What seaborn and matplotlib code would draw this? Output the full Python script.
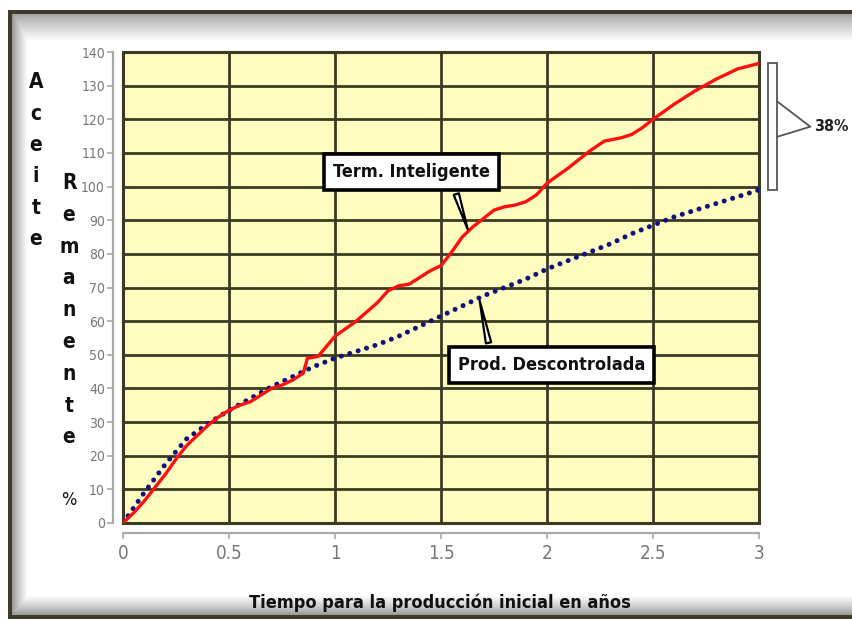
import numpy as np
import pandas as pd
import matplotlib
matplotlib.use("Agg")
import matplotlib.pyplot as plt
from matplotlib.patches import Rectangle
import seaborn as sns

# ---- data -------------------------------------------------------------
t_intel = [0, 0.05, 0.1, 0.15, 0.2, 0.25, 0.3, 0.35, 0.4, 0.45, 0.5, 0.55,
           0.6, 0.65, 0.7, 0.75, 0.8, 0.85, 0.87, 0.92, 1.0, 1.1, 1.2, 1.25,
           1.3, 1.35, 1.4, 1.45, 1.5, 1.55, 1.6, 1.65, 1.7, 1.75, 1.8, 1.85,
           1.9, 1.95, 2.0, 2.1, 2.2, 2.27, 2.35, 2.4, 2.45, 2.5, 2.6, 2.7,
           2.8, 2.9, 3.0]
v_intel = [0, 3, 6.5, 10.5, 14.5, 19, 23, 26, 29, 31.5, 33.5, 35,
           36, 38, 40, 41, 42.5, 44.5, 49, 49.5, 55.5, 60, 65.5, 69,
           70.5, 71, 73, 75, 76.5, 80.5, 85, 88, 90.5, 93, 94, 94.5,
           95.5, 97.5, 101, 105.5, 110.5, 113.5, 114.5, 115.5, 117.5, 120,
           124.5, 128.5, 132, 135, 136.6]

t_desc = [0, 0.1, 0.2, 0.3, 0.4, 0.5, 0.6, 0.7, 0.8, 0.9, 1.0, 1.1, 1.2,
          1.3, 1.4, 1.5, 1.6, 1.7, 1.8, 1.9, 2.0, 2.1, 2.2, 2.3, 2.4, 2.5,
          2.6, 2.7, 2.8, 2.9, 3.0]
v_desc = [0, 9, 17.5, 25, 29.5, 33.5, 37, 40.5, 43.5, 46.5, 49, 51, 53,
          55.5, 58.5, 61.5, 64.5, 67.5, 70, 72.5, 75.5, 78, 80.5, 83, 86,
          88.5, 91, 93, 95, 97, 99]

x_ticks = [0, 0.5, 1, 1.5, 2, 2.5, 3]
x_tick_labels = ["0", "0.5", "1", "1.5", "2", "2.5", "3"]
y_ticks = list(range(0, 141, 10))

label_intel = "Term. Inteligente"
label_desc = "Prod. Descontrolada"
gain_label = "38%"
x_title = "Tiempo para la producción inicial en años"
y_word1 = "Aceite"
y_word2 = "Remanente"

# ---- style ------------------------------------------------------------
sns.set_theme(style="ticks")
plt.rcParams["font.family"] = ["DejaVu Sans"]
plt.rcParams["font.stretch"] = "condensed"

W, H = 852, 621
fig = plt.figure(figsize=(W / 100, H / 100), dpi=100)

# framed panel with soft inner shadow
bg = np.ones((H, W, 3))
rows = np.arange(H)[:, None]
cols = np.arange(W)[None, :]
shade = np.ones((H, W))
top = np.clip((rows - 13) / 28.0, 0, 1)
left = np.clip((cols - 11) / 16.0, 0, 1)
bot = np.clip((613 - rows) / 18.0, 0, 1)
shade = np.minimum(shade, 0.62 + 0.38 * top ** 0.8)
shade = np.minimum(shade, 0.55 + 0.45 * left ** 0.8)
shade = np.minimum(shade, 0.62 + 0.38 * bot ** 0.8)
inside = (rows >= 10) & (cols >= 8) & (rows <= 618)
shade = np.where(inside, shade, 1.0)
bg = bg * shade[..., None]
dark = np.array([0.25, 0.23, 0.17])
bg[10:14, 8:] = dark
bg[10:619, 8:12] = dark
bg[615:619, 8:] = dark
bax = fig.add_axes([0, 0, 1, 1], zorder=-5)
bax.imshow(bg, aspect="auto", extent=(0, W, H, 0))
bax.set_axis_off()

# ---- chart ------------------------------------------------------------
ax = fig.add_axes([123 / W, 1 - 523 / H, (759 - 123) / W, (523 - 52) / H])
ax.set_facecolor("#fefcbf")
grid_c = "#3b3a22"

df_i = pd.DataFrame({"t": t_intel, "v": v_intel})
df_d = pd.DataFrame({"t": t_desc, "v": v_desc})

sns.lineplot(data=df_d, x="t", y="v", ax=ax, color="#101080", lw=3.6,
             dashes=False, zorder=4)
ax.lines[-1].set_linestyle((0, (0.01, 1.75)))
ax.lines[-1].set_dash_capstyle("round")
sns.lineplot(data=df_i, x="t", y="v", ax=ax, color="#ff1010", lw=2.4,
             zorder=5)

ax.set_xlim(0, 3)
ax.set_ylim(0, 140)
ax.set_xticks(x_ticks)
ax.set_xticklabels(x_tick_labels)
ax.set_yticks(y_ticks)
ax.grid(True, color=grid_c, lw=2.0, zorder=1)
ax.set_axisbelow(True)
ax.add_patch(Rectangle((0, 0), 1, 1, transform=ax.transAxes, fill=False,
                       ec=grid_c, lw=2.2, clip_on=False, zorder=3))
ax.set_xlabel("")
ax.set_ylabel("")

sns.despine(ax=ax, offset=7)
for s in ("left", "bottom"):
    ax.spines[s].set_color("#a9a9a9")
    ax.spines[s].set_linewidth(1.6)
ax.tick_params(axis="both", colors="#a9a9a9", length=4, width=1.2)
ax.tick_params(axis="y", labelsize=10, labelcolor="#777777", pad=2)
ax.tick_params(axis="x", labelsize=13.5, labelcolor="#777777", pad=4)

# callouts
box = dict(boxstyle="square,pad=0.5", fc="white", ec="black", lw=2.6)
ax.annotate(label_intel, xy=(1.63, 86.5), xytext=(1.36, 104.3),
            ha="center", va="center", fontsize=13, fontweight="bold",
            color="#111111", bbox=box, zorder=10,
            arrowprops=dict(arrowstyle="wedge,tail_width=0.3",
                            fc="white", ec="black", lw=1.6,
                            relpos=(0.76, 0.0)))
ax.annotate(label_desc, xy=(1.68, 66.8), xytext=(2.02, 47),
            ha="center", va="center", fontsize=13, fontweight="bold",
            color="#111111", bbox=box, zorder=10,
            arrowprops=dict(arrowstyle="wedge,tail_width=0.3",
                            fc="white", ec="black", lw=1.6,
                            relpos=(0.18, 1.0)))

# bracket marking the gap between the two end values
y_lo, y_hi = v_desc[-1], v_intel[-1]
ax.add_patch(Rectangle((3.043, y_lo), 0.043, y_hi - y_lo, fill=False,
                       ec="#555555", lw=1.3, clip_on=False))
y_mid = (y_lo + y_hi) / 2
ax.plot([3.086, 3.242, 3.086], [y_mid + 7.5, y_mid, y_mid - 3],
        color="#555555", lw=1.3, clip_on=False)
ax.text(3.258, y_mid, gain_label, ha="left", va="center", fontsize=11.5,
        fontweight="bold", color="#222222", clip_on=False)

# axis titles
fig.text(440 / W, 1 - 603 / H, x_title, ha="center", va="center",
         fontsize=13, fontweight="bold", color="#111111")
for i, ch in enumerate(y_word1):
    fig.text(36 / W, 1 - (82 + 31.5 * i) / H, ch, ha="center", va="center",
             fontsize=15, fontweight="bold", color="#111111")
for i, ch in enumerate(y_word2):
    fig.text(69 / W, 1 - (183 + 31.8 * i) / H, ch, ha="center", va="center",
             fontsize=15, fontweight="bold", color="#111111")
fig.text(69 / W, 1 - 500 / H, "%", ha="center", va="center",
         fontsize=13, color="#111111")

fig.savefig("out.png", dpi=100)
